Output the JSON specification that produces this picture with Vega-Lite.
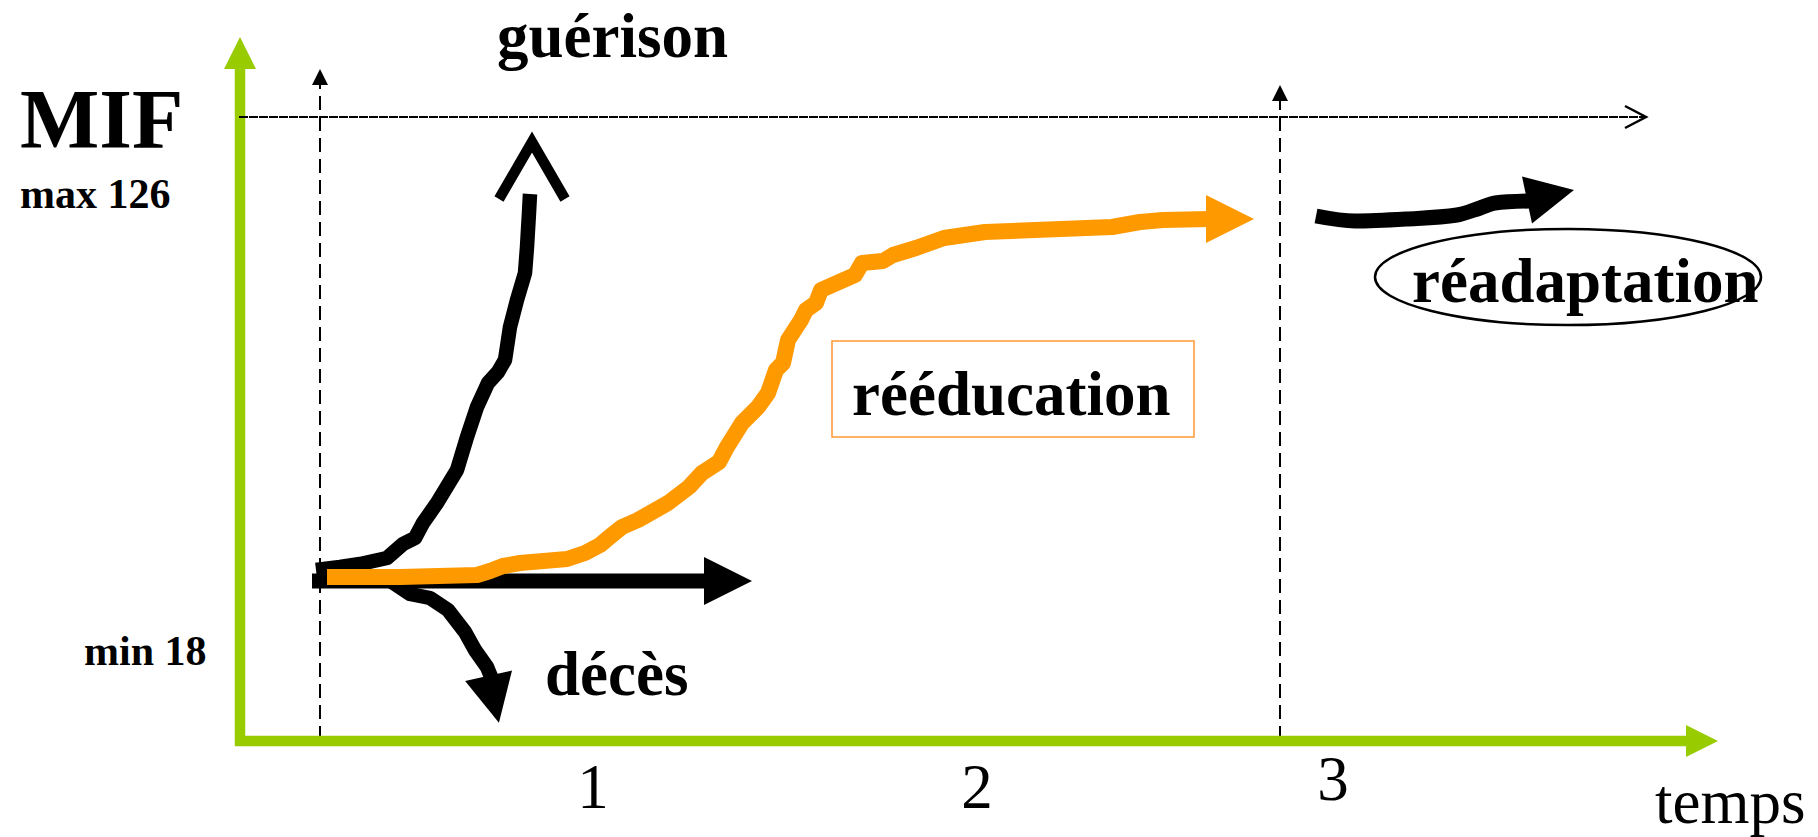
{
  "$schema": "https://vega.github.io/schema/vega-lite/v6.json",
  "width": 1818,
  "height": 837,
  "autosize": {"type": "fit", "contains": "padding"},
  "padding": 0,
  "background": "white",
  "config": {"view": {"stroke": null}},
  "datasets": {
    "lines": [
      {"id": "yaxis", "o": 0, "x": 240, "y": 746},
      {"id": "yaxis", "o": 1, "x": 240, "y": 66},
      {"id": "xaxis", "o": 0, "x": 235, "y": 741},
      {"id": "xaxis", "o": 1, "x": 1689, "y": 741},
      {"id": "dash1", "o": 0, "x": 320, "y": 740},
      {"id": "dash1", "o": 1, "x": 320, "y": 84},
      {"id": "dash2", "o": 0, "x": 1280, "y": 740},
      {"id": "dash2", "o": 1, "x": 1280, "y": 100},
      {"id": "hline", "o": 0, "x": 239, "y": 117},
      {"id": "hline", "o": 1, "x": 1644, "y": 117},
      {"id": "chev", "o": 0, "x": 1625, "y": 106},
      {"id": "chev", "o": 1, "x": 1646, "y": 117},
      {"id": "chev", "o": 2, "x": 1625, "y": 128},
      {"id": "harrow", "o": 0, "x": 312, "y": 581},
      {"id": "harrow", "o": 1, "x": 707, "y": 581},
      {"id": "guer", "o": 0, "x": 316, "y": 570},
      {"id": "guer", "o": 1, "x": 340, "y": 567},
      {"id": "guer", "o": 2, "x": 360, "y": 564},
      {"id": "guer", "o": 3, "x": 387, "y": 558},
      {"id": "guer", "o": 4, "x": 403, "y": 544},
      {"id": "guer", "o": 5, "x": 415, "y": 538},
      {"id": "guer", "o": 6, "x": 423, "y": 523},
      {"id": "guer", "o": 7, "x": 437, "y": 503},
      {"id": "guer", "o": 8, "x": 457, "y": 470},
      {"id": "guer", "o": 9, "x": 467, "y": 437},
      {"id": "guer", "o": 10, "x": 477, "y": 407},
      {"id": "guer", "o": 11, "x": 488, "y": 383},
      {"id": "guer", "o": 12, "x": 498, "y": 372},
      {"id": "guer", "o": 13, "x": 505, "y": 360},
      {"id": "guer", "o": 14, "x": 510, "y": 327},
      {"id": "guer", "o": 15, "x": 517, "y": 300},
      {"id": "guer", "o": 16, "x": 525, "y": 273},
      {"id": "guer", "o": 17, "x": 527, "y": 247},
      {"id": "guer", "o": 18, "x": 529, "y": 213},
      {"id": "guer", "o": 19, "x": 530, "y": 194},
      {"id": "guerhead", "o": 0, "x": 499, "y": 199},
      {"id": "guerhead", "o": 1, "x": 532, "y": 142},
      {"id": "guerhead", "o": 2, "x": 565, "y": 199},
      {"id": "deces", "o": 0, "x": 392, "y": 582},
      {"id": "deces", "o": 1, "x": 410, "y": 594},
      {"id": "deces", "o": 2, "x": 430, "y": 598},
      {"id": "deces", "o": 3, "x": 448, "y": 610},
      {"id": "deces", "o": 4, "x": 465, "y": 632},
      {"id": "deces", "o": 5, "x": 475, "y": 650},
      {"id": "deces", "o": 6, "x": 487, "y": 667},
      {"id": "deces", "o": 7, "x": 494, "y": 684},
      {"id": "orange", "o": 0, "x": 327, "y": 577},
      {"id": "orange", "o": 1, "x": 400, "y": 577},
      {"id": "orange", "o": 2, "x": 477, "y": 575},
      {"id": "orange", "o": 3, "x": 490, "y": 571},
      {"id": "orange", "o": 4, "x": 503, "y": 566},
      {"id": "orange", "o": 5, "x": 520, "y": 563},
      {"id": "orange", "o": 6, "x": 567, "y": 559},
      {"id": "orange", "o": 7, "x": 585, "y": 553},
      {"id": "orange", "o": 8, "x": 600, "y": 545},
      {"id": "orange", "o": 9, "x": 612, "y": 535},
      {"id": "orange", "o": 10, "x": 622, "y": 527},
      {"id": "orange", "o": 11, "x": 638, "y": 520},
      {"id": "orange", "o": 12, "x": 668, "y": 503},
      {"id": "orange", "o": 13, "x": 689, "y": 487},
      {"id": "orange", "o": 14, "x": 702, "y": 473},
      {"id": "orange", "o": 15, "x": 719, "y": 462},
      {"id": "orange", "o": 16, "x": 727, "y": 447},
      {"id": "orange", "o": 17, "x": 742, "y": 423},
      {"id": "orange", "o": 18, "x": 758, "y": 407},
      {"id": "orange", "o": 19, "x": 768, "y": 393},
      {"id": "orange", "o": 20, "x": 776, "y": 370},
      {"id": "orange", "o": 21, "x": 783, "y": 363},
      {"id": "orange", "o": 22, "x": 788, "y": 340},
      {"id": "orange", "o": 23, "x": 801, "y": 320},
      {"id": "orange", "o": 24, "x": 806, "y": 310},
      {"id": "orange", "o": 25, "x": 816, "y": 303},
      {"id": "orange", "o": 26, "x": 821, "y": 290},
      {"id": "orange", "o": 27, "x": 855, "y": 275},
      {"id": "orange", "o": 28, "x": 862, "y": 263},
      {"id": "orange", "o": 29, "x": 883, "y": 261},
      {"id": "orange", "o": 30, "x": 893, "y": 255},
      {"id": "orange", "o": 31, "x": 916, "y": 248},
      {"id": "orange", "o": 32, "x": 944, "y": 238},
      {"id": "orange", "o": 33, "x": 985, "y": 232},
      {"id": "orange", "o": 34, "x": 1112, "y": 227},
      {"id": "orange", "o": 35, "x": 1140, "y": 222},
      {"id": "orange", "o": 36, "x": 1163, "y": 220},
      {"id": "orange", "o": 37, "x": 1210, "y": 219},
      {"id": "readapt", "o": 0, "x": 1316, "y": 216},
      {"id": "readapt", "o": 1, "x": 1355, "y": 221},
      {"id": "readapt", "o": 2, "x": 1406, "y": 219},
      {"id": "readapt", "o": 3, "x": 1457, "y": 215},
      {"id": "readapt", "o": 4, "x": 1480, "y": 208},
      {"id": "readapt", "o": 5, "x": 1495, "y": 203},
      {"id": "readapt", "o": 6, "x": 1529, "y": 201}
    ],
    "heads": [
      {"id": "ygreen", "x": 240, "y": 53},
      {"id": "xgreen", "x": 1702, "y": 741},
      {"id": "dashhead", "x": 320, "y": 77},
      {"id": "dashhead", "x": 1280, "y": 93},
      {"id": "hhead", "x": 728, "y": 581},
      {"id": "ohead", "x": 1230, "y": 219},
      {"id": "dhead", "x": 493.75, "y": 699.25},
      {"id": "rhead", "x": 1550.5, "y": 195}
    ],
    "box": [{"x": 832, "x2": 1194, "y": 341, "y2": 437}],
    "ellipse": [{"x": 1568, "y": 277}],
    "texts": [
      {"g": "big", "t": "MIF", "x": 20, "y": 148},
      {"g": "small", "t": "max 126", "x": 20, "y": 208},
      {"g": "small", "t": "min 18", "x": 84, "y": 665},
      {"g": "bold", "t": "guérison", "x": 497, "y": 57},
      {"g": "bold", "t": "rééducation", "x": 852, "y": 415},
      {"g": "bold", "t": "réadaptation", "x": 1412, "y": 302},
      {"g": "bold", "t": "décès", "x": 545, "y": 695},
      {"g": "num", "t": "1", "x": 593, "y": 808},
      {"g": "num", "t": "2", "x": 977, "y": 808},
      {"g": "num", "t": "3", "x": 1333, "y": 800},
      {"g": "temps", "t": "temps", "x": 1655, "y": 823}
    ]
  },
  "encoding": {
    "x": {"field": "x", "type": "quantitative", "scale": {"domain": [0, 1818], "nice": false, "zero": false}, "axis": null},
    "y": {"field": "y", "type": "quantitative", "scale": {"domain": [0, 837], "nice": false, "zero": false, "reverse": true}, "axis": null}
  },
  "layer": [
    {"data": {"name": "lines"}, "transform": [{"filter": "datum.id === 'dash1' || datum.id === 'dash2'"}],
     "mark": {"type": "line", "stroke": "black", "strokeWidth": 2, "strokeDash": [14, 7], "strokeCap": "butt"},
     "encoding": {"order": {"field": "o"}, "detail": {"field": "id"}}},
    {"data": {"name": "lines"}, "transform": [{"filter": "datum.id === 'yaxis' || datum.id === 'xaxis'"}],
     "mark": {"type": "line", "stroke": "#99CC00", "strokeWidth": 10.5, "strokeCap": "butt"},
     "encoding": {"order": {"field": "o"}, "detail": {"field": "id"}}},
    {"data": {"name": "lines"}, "transform": [{"filter": "datum.id === 'hline'"}],
     "mark": {"type": "line", "stroke": "black", "strokeWidth": 2, "strokeDash": [9, 1], "strokeCap": "butt"},
     "encoding": {"order": {"field": "o"}}},
    {"data": {"name": "lines"}, "transform": [{"filter": "datum.id === 'chev'"}],
     "mark": {"type": "line", "stroke": "black", "strokeWidth": 2.5, "strokeJoin": "miter"},
     "encoding": {"order": {"field": "o"}}},
    {"data": {"name": "lines"}, "transform": [{"filter": "datum.id === 'harrow'"}],
     "mark": {"type": "line", "stroke": "black", "strokeWidth": 15, "strokeCap": "butt"},
     "encoding": {"order": {"field": "o"}}},
    {"data": {"name": "lines"}, "transform": [{"filter": "datum.id === 'guer' || datum.id === 'deces'"}],
     "mark": {"type": "line", "stroke": "black", "strokeWidth": 14.5, "strokeCap": "butt", "strokeJoin": "round"},
     "encoding": {"order": {"field": "o"}, "detail": {"field": "id"}}},
    {"data": {"name": "lines"}, "transform": [{"filter": "datum.id === 'guerhead'"}],
     "mark": {"type": "line", "stroke": "black", "strokeWidth": 10.5, "strokeCap": "butt", "strokeJoin": "miter"},
     "encoding": {"order": {"field": "o"}}},
    {"data": {"name": "lines"}, "transform": [{"filter": "datum.id === 'orange'"}],
     "mark": {"type": "line", "stroke": "#FF9900", "strokeWidth": 16, "strokeCap": "butt", "strokeJoin": "round"},
     "encoding": {"order": {"field": "o"}}},
    {"data": {"name": "lines"}, "transform": [{"filter": "datum.id === 'readapt'"}],
     "mark": {"type": "line", "stroke": "black", "strokeWidth": 15, "strokeCap": "butt", "strokeJoin": "round", "interpolate": "monotone"},
     "encoding": {"order": {"field": "o"}}},
    {"data": {"name": "heads"}, "transform": [{"filter": "datum.id === 'ygreen'"}],
     "mark": {"type": "point", "shape": "M 1 0 L -1 -1 L -1 1 Z", "filled": true, "fill": "#99CC00", "opacity": 1, "strokeWidth": 0, "size": 1024, "angle": -90}},
    {"data": {"name": "heads"}, "transform": [{"filter": "datum.id === 'xgreen'"}],
     "mark": {"type": "point", "shape": "M 1 0 L -1 -1 L -1 1 Z", "filled": true, "fill": "#99CC00", "opacity": 1, "strokeWidth": 0, "size": 1024, "angle": 0}},
    {"data": {"name": "heads"}, "transform": [{"filter": "datum.id === 'dashhead'"}],
     "mark": {"type": "point", "shape": "M 1 0 L -1 -1 L -1 1 Z", "filled": true, "fill": "black", "opacity": 1, "strokeWidth": 0, "size": 256, "angle": -90}},
    {"data": {"name": "heads"}, "transform": [{"filter": "datum.id === 'hhead'"}],
     "mark": {"type": "point", "shape": "M 1 0 L -1 -1 L -1 1 Z", "filled": true, "fill": "black", "opacity": 1, "strokeWidth": 0, "size": 2304, "angle": 0}},
    {"data": {"name": "heads"}, "transform": [{"filter": "datum.id === 'ohead'"}],
     "mark": {"type": "point", "shape": "M 1 0 L -1 -1 L -1 1 Z", "filled": true, "fill": "#FF9900", "opacity": 1, "strokeWidth": 0, "size": 2304, "angle": 0}},
    {"data": {"name": "heads"}, "transform": [{"filter": "datum.id === 'dhead'"}],
     "mark": {"type": "point", "shape": "M 1 0 L -1 -1 L -1 1 Z", "filled": true, "fill": "black", "opacity": 1, "strokeWidth": 0, "size": 2304, "angle": 77.5}},
    {"data": {"name": "heads"}, "transform": [{"filter": "datum.id === 'rhead'"}],
     "mark": {"type": "point", "shape": "M 1 0 L -1 -1 L -1 1 Z", "filled": true, "fill": "black", "opacity": 1, "strokeWidth": 0, "size": 2304, "angle": -12}},
    {"data": {"name": "box"},
     "mark": {"type": "rect", "fill": "white", "fillOpacity": 0, "stroke": "#FF9933", "strokeWidth": 1.5},
     "encoding": {"x2": {"field": "x2"}, "y2": {"field": "y2"}}},
    {"data": {"name": "ellipse"},
     "mark": {"type": "point", "shape": "M -1 0 A 1 0.249 0 1 0 1 0 A 1 0.249 0 1 0 -1 0 Z", "filled": false, "stroke": "black", "strokeWidth": 2.5, "opacity": 1, "size": 148996}},
    {"data": {"name": "texts"}, "transform": [{"filter": "datum.g === 'big'"}],
     "mark": {"type": "text", "font": "Liberation Serif", "fontWeight": "bold", "fontSize": 84, "align": "left", "baseline": "alphabetic", "color": "black"},
     "encoding": {"text": {"field": "t"}}},
    {"data": {"name": "texts"}, "transform": [{"filter": "datum.g === 'small'"}],
     "mark": {"type": "text", "font": "Liberation Serif", "fontWeight": "bold", "fontSize": 42, "align": "left", "baseline": "alphabetic", "color": "black"},
     "encoding": {"text": {"field": "t"}}},
    {"data": {"name": "texts"}, "transform": [{"filter": "datum.g === 'bold'"}],
     "mark": {"type": "text", "font": "Liberation Serif", "fontWeight": "bold", "fontSize": 63, "align": "left", "baseline": "alphabetic", "color": "black"},
     "encoding": {"text": {"field": "t"}}},
    {"data": {"name": "texts"}, "transform": [{"filter": "datum.g === 'num'"}],
     "mark": {"type": "text", "font": "Liberation Serif", "fontSize": 63, "align": "center", "baseline": "alphabetic", "color": "black"},
     "encoding": {"text": {"field": "t"}}},
    {"data": {"name": "texts"}, "transform": [{"filter": "datum.g === 'temps'"}],
     "mark": {"type": "text", "font": "Liberation Serif", "fontSize": 63, "align": "left", "baseline": "alphabetic", "color": "black"},
     "encoding": {"text": {"field": "t"}}}
  ]
}
